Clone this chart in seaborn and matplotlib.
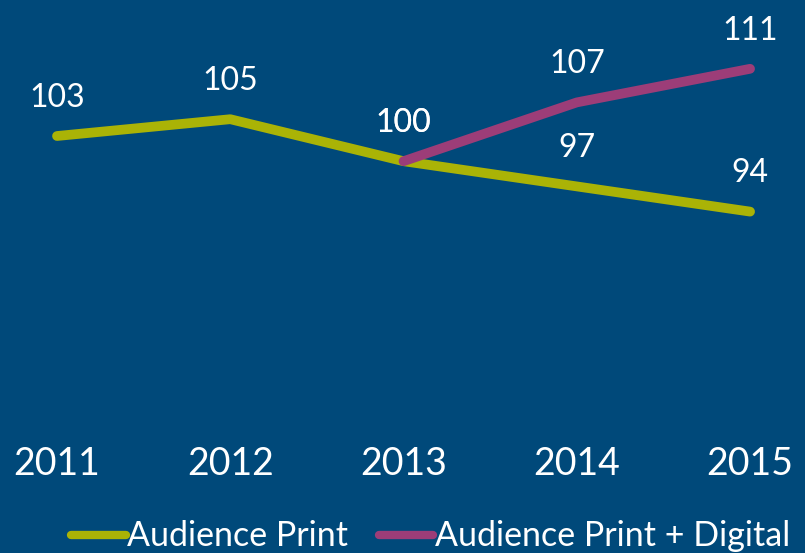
import seaborn as sns
import matplotlib.pyplot as plt
import pandas as pd

years = [2011, 2012, 2013, 2014, 2015]
print_audience = [103, 105, 100, 97, 94]
digital_years = [2013, 2014, 2015]
print_digital_audience = [100, 107, 111]

series_names = ["Audience Print", "Audience Print + Digital"]
colors = {"Audience Print": "#aab306", "Audience Print + Digital": "#9c3d78"}
bg = "#00497a"

df = pd.concat([
    pd.DataFrame({"Year": years, "Audience": print_audience, "Series": series_names[0]}),
    pd.DataFrame({"Year": digital_years, "Audience": print_digital_audience, "Series": series_names[1]}),
])

sns.set_theme(style="white")
plt.rcParams['font.family'] = ['Lato', 'DejaVu Sans']

fig = plt.figure(figsize=(8.05, 5.53), dpi=100, facecolor=bg)
ax = fig.add_axes([0, 0.2043, 1, 0.7957])
ax.set_facecolor(bg)

sns.lineplot(data=df, x="Year", y="Audience", hue="Series", palette=colors,
             linewidth=7, legend=False, ax=ax, sort=False)
for ln in ax.get_lines():
    ln.set_solid_capstyle("round")
    ln.set_solid_joinstyle("round")

# value labels above each point
for sub in df.itertuples():
    ax.annotate(str(sub.Audience), (sub.Year, sub.Audience), xytext=(0, 27.5),
                textcoords="offset points", ha="center", va="center",
                color="white", fontsize=23)

ax.set_xlim(2010.671, 2015.317)
ax.set_ylim(66.81, 119.19)
ax.set_xticks(years)
ax.set_xticklabels([str(y) for y in years])
ax.tick_params(axis="x", colors="white", labelsize=27, pad=4, length=0)
ax.set_yticks([])
ax.set_xlabel("")
ax.set_ylabel("")
for s in ax.spines.values():
    s.set_visible(False)

handles = [plt.Line2D([0], [0], color=colors[n], lw=6, solid_capstyle="round") for n in series_names]
leg = fig.legend(handles, series_names, loc="center", bbox_to_anchor=(0.535, 0.03), ncol=2,
                 frameon=False, fontsize=24.5, handlelength=1.6, handletextpad=0.05,
                 columnspacing=0.9)
for t in leg.get_texts():
    t.set_color("white")

fig.savefig("out.png", dpi=100, facecolor=bg)
